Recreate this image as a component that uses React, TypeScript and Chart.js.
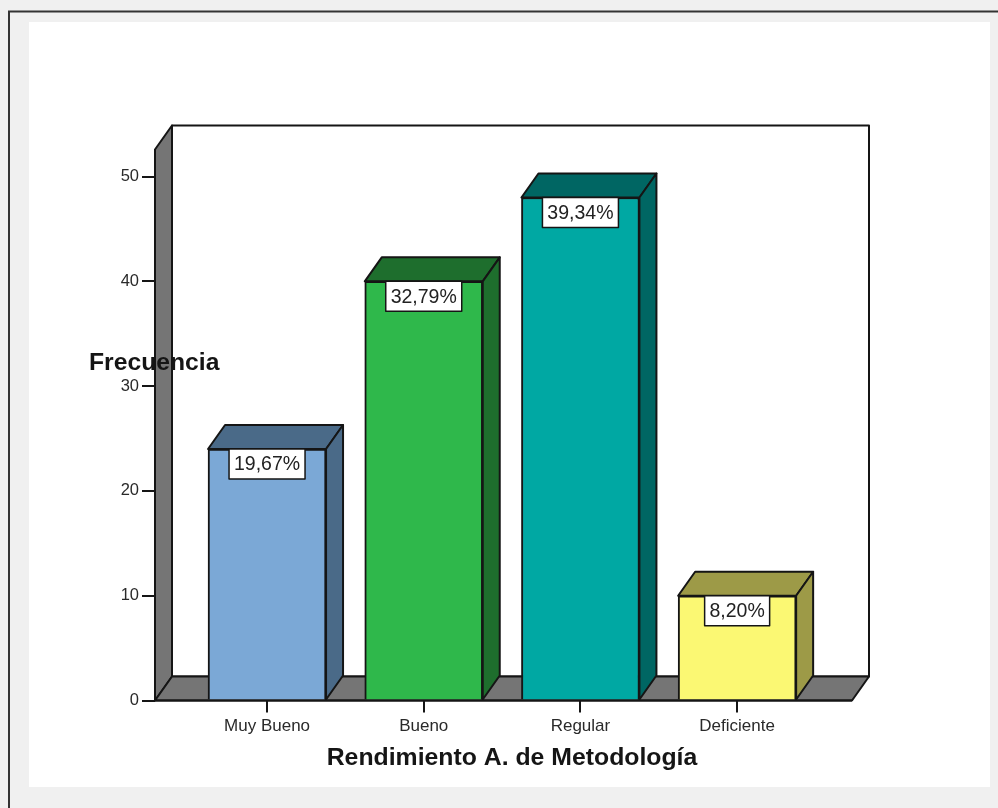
import React, { useEffect, useRef } from "react";
import { Chart, registerables } from "chart.js";

Chart.register(...registerables);

const categories = ["Muy Bueno", "Bueno", "Regular", "Deficiente"];
const frequencies = [24, 40, 48, 10];
const percentLabels = ["19,67%", "32,79%", "39,34%", "8,20%"];
const frontColors = ["#7ba8d6", "#2fb84b", "#00a8a3", "#fbf873"];
const sideColors = ["#4a6a88", "#1e6e2d", "#006663", "#9d9a47"];
const yTickValues = [0, 10, 20, 30, 40, 50];

const FONT = "'Liberation Sans', Arial, sans-serif";
const INK = "#151515";
const WALL = "#757575";
const DEPTH_X = 17;
const DEPTH_Y = 24;

function poly(ctx: CanvasRenderingContext2D, pts: number[][], fill: string | null, stroke = INK, lw = 2) {
  ctx.beginPath();
  pts.forEach(([x, y], i) => (i ? ctx.lineTo(x, y) : ctx.moveTo(x, y)));
  ctx.closePath();
  if (fill) {
    ctx.fillStyle = fill;
    ctx.fill();
  }
  ctx.lineWidth = lw;
  ctx.strokeStyle = stroke;
  ctx.lineJoin = "round";
  ctx.stroke();
}

// Page panel: grey surround, white sheet and the dark top/left rule.
const panelPlugin = {
  id: "panel",
  beforeDraw(chart: any) {
    const { ctx, width, height } = chart;
    ctx.save();
    ctx.fillStyle = "#f0f0f0";
    ctx.fillRect(0, 0, width, height);
    ctx.fillStyle = "#ffffff";
    ctx.fillRect(29, 22, 961, 765);
    ctx.strokeStyle = "#333333";
    ctx.lineWidth = 2;
    ctx.beginPath();
    ctx.moveTo(9, height);
    ctx.lineTo(9, 11.5);
    ctx.lineTo(width, 11.5);
    ctx.stroke();
    ctx.restore();
  },
};

// Back wall, side wall and floor of the 3D box, tied to the chart area.
const boxPlugin = {
  id: "box",
  beforeDatasetsDraw(chart: any) {
    const { ctx, chartArea: a } = chart;
    const { left: l, right: r, top: t, bottom: b } = a;
    const dx = DEPTH_X;
    const dy = DEPTH_Y;
    ctx.save();
    poly(ctx, [[l + dx, t - dy], [r + dx, t - dy], [r + dx, b - dy], [l + dx, b - dy]], "#ffffff");
    poly(ctx, [[l, t], [l + dx, t - dy], [l + dx, b - dy], [l, b]], WALL);
    poly(ctx, [[l, b], [l + dx, b - dy], [r + dx, b - dy], [r, b]], WALL);
    ctx.restore();
  },
};

// Top and side faces of each bar, then the percentage boxes and axis titles.
const barFacesPlugin = {
  id: "barFaces",
  afterDatasetsDraw(chart: any) {
    const { ctx, chartArea: a } = chart;
    const meta = chart.getDatasetMeta(0);
    ctx.save();
    meta.data.forEach((bar: any, i: number) => {
      const x0 = bar.x - bar.width / 2;
      const x1 = bar.x + bar.width / 2;
      const top = bar.y;
      const base = bar.base;
      poly(ctx, [[x0, top], [x0 + DEPTH_X, top - DEPTH_Y], [x1 + DEPTH_X, top - DEPTH_Y], [x1, top]], sideColors[i]);
      poly(ctx, [[x1, top], [x1 + DEPTH_X, top - DEPTH_Y], [x1 + DEPTH_X, base - DEPTH_Y], [x1, base]], sideColors[i]);

      ctx.font = `19.5px ${FONT}`;
      const tw = ctx.measureText(percentLabels[i]).width;
      const bw = Math.round(tw + 10);
      const bx = bar.x - bw / 2;
      ctx.fillStyle = "#ffffff";
      ctx.fillRect(bx, top, bw, 30);
      ctx.strokeStyle = INK;
      ctx.lineWidth = 1.5;
      ctx.strokeRect(bx, top, bw, 30);
      ctx.fillStyle = "#222222";
      ctx.textAlign = "center";
      ctx.textBaseline = "middle";
      ctx.fillText(percentLabels[i], bar.x, top + 16);
    });

    ctx.beginPath();
    ctx.moveTo(a.left, a.bottom);
    ctx.lineTo(a.right, a.bottom);
    ctx.lineWidth = 2;
    ctx.strokeStyle = INK;
    ctx.stroke();

    ctx.fillStyle = "#151515";
    ctx.textBaseline = "middle";
    ctx.font = `bold 24.7px ${FONT}`;
    ctx.textAlign = "left";
    ctx.fillText("Frecuencia", 89, 363);
    ctx.font = `bold 24.8px ${FONT}`;
    ctx.textAlign = "center";
    ctx.fillText("Rendimiento A. de Metodología", 512, 758);
    ctx.restore();
  },
};

export default function App() {
  const ref = useRef<HTMLCanvasElement>(null);

  useEffect(() => {
    const chart = new Chart(ref.current!, {
      type: "bar",
      data: {
        datasets: [
          {
            data: frequencies.map((y, x) => ({ x, y })),
            backgroundColor: frontColors,
            borderColor: INK,
            borderWidth: 2,
            barThickness: 118,
          },
        ],
      },
      options: {
        responsive: false,
        animation: false,
        events: [],
        layout: { padding: { left: 115, right: 146, top: 149.5, bottom: 0 } },
        plugins: { legend: { display: false }, tooltip: { enabled: false }, title: { display: false } },
        scales: {
          x: {
            type: "linear",
            offset: false,
            min: -0.715,
            max: 3.733,
            border: { display: false },
            grid: { offset: false, drawOnChartArea: false, drawTicks: true, tickLength: 12, tickColor: INK, lineWidth: 2 },
            afterBuildTicks(scale: any) {
              scale.ticks = categories.map((_, value) => ({ value }));
            },
            afterFit(scale: any) {
              scale.height = 107.5;
            },
            ticks: {
              autoSkip: false,
              maxRotation: 0,
              padding: 4,
              color: "#2a2a2a",
              font: { family: FONT, size: 17 },
              callback: (v: any) => categories[v],
            },
          },
          y: {
            min: 0,
            max: 52.58,
            border: { display: false },
            grid: { drawOnChartArea: false, drawTicks: true, tickLength: 13, tickColor: INK, lineWidth: 2 },
            afterBuildTicks(scale: any) {
              scale.ticks = yTickValues.map((value) => ({ value }));
            },
            afterFit(scale: any) {
              scale.width = 40;
            },
            ticks: {
              padding: 3,
              color: "#2a2a2a",
              font: { family: FONT, size: 16.5 },
            },
          },
        },
      },
      plugins: [panelPlugin, boxPlugin, barFacesPlugin],
    } as any);
    return () => chart.destroy();
  }, []);

  return (
    <canvas
      ref={ref}
      width={998}
      height={808}
      style={{ position: "fixed", left: 0, top: 0, width: 998, height: 808, display: "block" }}
    />
  );
}
